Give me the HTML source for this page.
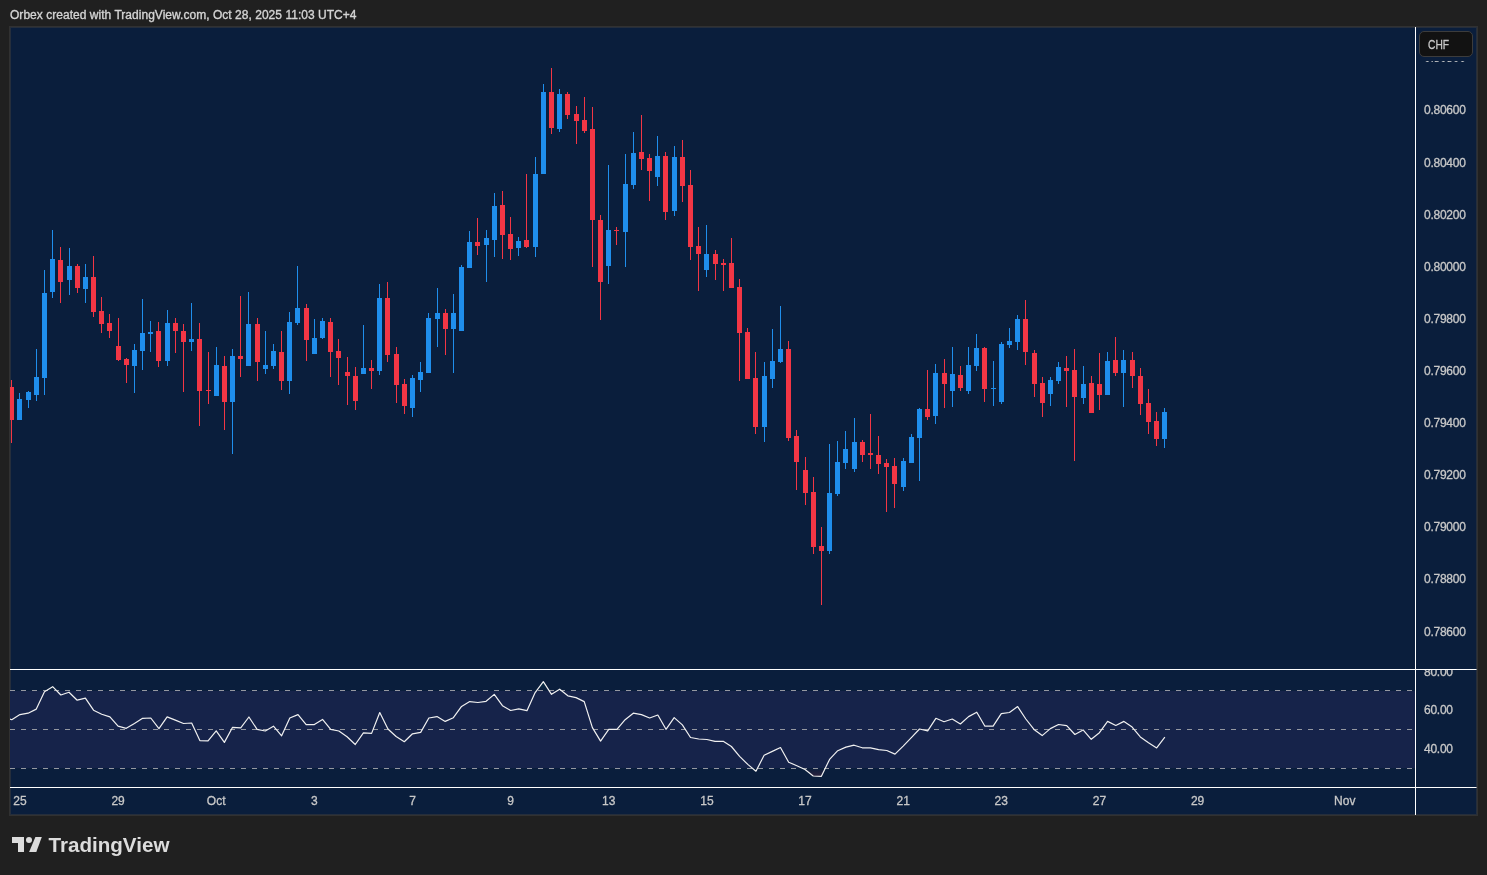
<!DOCTYPE html><html><head><meta charset="utf-8"><style>html,body{margin:0;padding:0;background:#202020;width:1487px;height:875px;overflow:hidden}svg{display:block;will-change:transform}text{font-family:"Liberation Sans", sans-serif} .ax{stroke:#c8c8c8;stroke-width:0.3px}</style></head><body>
<svg width="1487" height="875" viewBox="0 0 1487 875">
<rect x="0" y="0" width="1487" height="875" fill="#202020"/>
<text x="10" y="19" font-size="12" letter-spacing="0.03" stroke="#d4d4d4" stroke-width="0.35" fill="#d4d4d4">Orbex created with TradingView.com, Oct 28, 2025 11:03 UTC+4</text>
<rect x="9" y="26" width="1469" height="790" fill="#313131"/>
<rect x="10" y="27" width="1467" height="788" fill="#252e3c"/>
<rect x="11" y="28" width="1465" height="786" fill="#0a1e3c"/>
<defs><clipPath id="mp"><rect x="10" y="27" width="1405" height="642"/></clipPath><clipPath id="rp"><rect x="10" y="670" width="1405" height="117"/></clipPath><clipPath id="rl"><rect x="1416" y="670" width="61" height="117"/></clipPath><clipPath id="cl"><rect x="1416" y="61" width="61" height="10"/></clipPath></defs>
<rect x="10" y="691" width="1405" height="77" fill="#16234a"/>
<line x1="10" y1="690.5" x2="1415" y2="690.5" stroke="#9598a1" stroke-width="1" stroke-dasharray="5 6"/>
<line x1="10" y1="729.5" x2="1415" y2="729.5" stroke="#9598a1" stroke-width="1" stroke-dasharray="5 6"/>
<line x1="10" y1="768.5" x2="1415" y2="768.5" stroke="#9598a1" stroke-width="1" stroke-dasharray="5 6"/>
<g clip-path="url(#mp)" shape-rendering="crispEdges"><rect x="11" y="380" width="1" height="63" fill="#f23645"/><rect x="9" y="387" width="5" height="33" fill="#f23645"/><rect x="19" y="393" width="1" height="27" fill="#1f8eec"/><rect x="17" y="399" width="5" height="21" fill="#1f8eec"/><rect x="28" y="391" width="1" height="17" fill="#1f8eec"/><rect x="26" y="392" width="5" height="8" fill="#1f8eec"/><rect x="36" y="349" width="1" height="52" fill="#1f8eec"/><rect x="34" y="377" width="5" height="18" fill="#1f8eec"/><rect x="44" y="270" width="1" height="125" fill="#1f8eec"/><rect x="42" y="293" width="5" height="85" fill="#1f8eec"/><rect x="52" y="230" width="1" height="68" fill="#1f8eec"/><rect x="50" y="259" width="5" height="33" fill="#1f8eec"/><rect x="60" y="247" width="1" height="56" fill="#f23645"/><rect x="58" y="260" width="5" height="22" fill="#f23645"/><rect x="69" y="248" width="1" height="47" fill="#1f8eec"/><rect x="67" y="266" width="5" height="14" fill="#1f8eec"/><rect x="77" y="264" width="1" height="29" fill="#f23645"/><rect x="75" y="266" width="5" height="22" fill="#f23645"/><rect x="85" y="264" width="1" height="39" fill="#1f8eec"/><rect x="83" y="277" width="5" height="12" fill="#1f8eec"/><rect x="93" y="256" width="1" height="61" fill="#f23645"/><rect x="91" y="277" width="5" height="35" fill="#f23645"/><rect x="101" y="297" width="1" height="36" fill="#f23645"/><rect x="99" y="311" width="5" height="13" fill="#f23645"/><rect x="109" y="314" width="1" height="24" fill="#f23645"/><rect x="107" y="323" width="5" height="8" fill="#f23645"/><rect x="118" y="318" width="1" height="43" fill="#f23645"/><rect x="116" y="346" width="5" height="14" fill="#f23645"/><rect x="126" y="358" width="1" height="25" fill="#f23645"/><rect x="124" y="359" width="5" height="6" fill="#f23645"/><rect x="134" y="344" width="1" height="49" fill="#1f8eec"/><rect x="132" y="350" width="5" height="16" fill="#1f8eec"/><rect x="142" y="299" width="1" height="71" fill="#1f8eec"/><rect x="140" y="333" width="5" height="18" fill="#1f8eec"/><rect x="150" y="321" width="1" height="31" fill="#1f8eec"/><rect x="148" y="332" width="5" height="2" fill="#1f8eec"/><rect x="158" y="322" width="1" height="45" fill="#f23645"/><rect x="156" y="331" width="5" height="30" fill="#f23645"/><rect x="167" y="310" width="1" height="56" fill="#1f8eec"/><rect x="165" y="323" width="5" height="38" fill="#1f8eec"/><rect x="175" y="318" width="1" height="35" fill="#f23645"/><rect x="173" y="323" width="5" height="8" fill="#f23645"/><rect x="183" y="324" width="1" height="68" fill="#f23645"/><rect x="181" y="331" width="5" height="11" fill="#f23645"/><rect x="191" y="303" width="1" height="48" fill="#1f8eec"/><rect x="189" y="339" width="5" height="3" fill="#1f8eec"/><rect x="199" y="323" width="1" height="103" fill="#f23645"/><rect x="197" y="339" width="5" height="52" fill="#f23645"/><rect x="208" y="352" width="1" height="52" fill="#f23645"/><rect x="206" y="390" width="5" height="1" fill="#f23645"/><rect x="216" y="347" width="1" height="49" fill="#1f8eec"/><rect x="214" y="365" width="5" height="31" fill="#1f8eec"/><rect x="224" y="356" width="1" height="74" fill="#f23645"/><rect x="222" y="366" width="5" height="36" fill="#f23645"/><rect x="232" y="349" width="1" height="105" fill="#1f8eec"/><rect x="230" y="356" width="5" height="46" fill="#1f8eec"/><rect x="240" y="296" width="1" height="81" fill="#f23645"/><rect x="238" y="356" width="5" height="3" fill="#f23645"/><rect x="248" y="292" width="1" height="74" fill="#1f8eec"/><rect x="246" y="324" width="5" height="42" fill="#1f8eec"/><rect x="257" y="318" width="1" height="63" fill="#f23645"/><rect x="255" y="324" width="5" height="38" fill="#f23645"/><rect x="265" y="331" width="1" height="43" fill="#1f8eec"/><rect x="263" y="365" width="5" height="4" fill="#1f8eec"/><rect x="273" y="344" width="1" height="25" fill="#1f8eec"/><rect x="271" y="351" width="5" height="15" fill="#1f8eec"/><rect x="281" y="331" width="1" height="59" fill="#f23645"/><rect x="279" y="352" width="5" height="29" fill="#f23645"/><rect x="289" y="312" width="1" height="82" fill="#1f8eec"/><rect x="287" y="322" width="5" height="59" fill="#1f8eec"/><rect x="297" y="266" width="1" height="59" fill="#1f8eec"/><rect x="295" y="308" width="5" height="15" fill="#1f8eec"/><rect x="306" y="304" width="1" height="57" fill="#f23645"/><rect x="304" y="308" width="5" height="32" fill="#f23645"/><rect x="314" y="319" width="1" height="35" fill="#1f8eec"/><rect x="312" y="338" width="5" height="16" fill="#1f8eec"/><rect x="322" y="318" width="1" height="21" fill="#1f8eec"/><rect x="320" y="321" width="5" height="17" fill="#1f8eec"/><rect x="330" y="318" width="1" height="59" fill="#f23645"/><rect x="328" y="322" width="5" height="30" fill="#f23645"/><rect x="338" y="339" width="1" height="46" fill="#f23645"/><rect x="336" y="351" width="5" height="7" fill="#f23645"/><rect x="347" y="357" width="1" height="48" fill="#f23645"/><rect x="345" y="372" width="5" height="4" fill="#f23645"/><rect x="355" y="367" width="1" height="43" fill="#f23645"/><rect x="353" y="376" width="5" height="25" fill="#f23645"/><rect x="363" y="325" width="1" height="49" fill="#1f8eec"/><rect x="361" y="368" width="5" height="6" fill="#1f8eec"/><rect x="371" y="360" width="1" height="29" fill="#f23645"/><rect x="369" y="368" width="5" height="3" fill="#f23645"/><rect x="379" y="284" width="1" height="91" fill="#1f8eec"/><rect x="377" y="298" width="5" height="73" fill="#1f8eec"/><rect x="387" y="282" width="1" height="80" fill="#f23645"/><rect x="385" y="298" width="5" height="57" fill="#f23645"/><rect x="396" y="347" width="1" height="56" fill="#f23645"/><rect x="394" y="354" width="5" height="31" fill="#f23645"/><rect x="404" y="379" width="1" height="35" fill="#f23645"/><rect x="402" y="384" width="5" height="22" fill="#f23645"/><rect x="412" y="375" width="1" height="42" fill="#1f8eec"/><rect x="410" y="378" width="5" height="30" fill="#1f8eec"/><rect x="420" y="362" width="1" height="30" fill="#1f8eec"/><rect x="418" y="372" width="5" height="8" fill="#1f8eec"/><rect x="428" y="313" width="1" height="60" fill="#1f8eec"/><rect x="426" y="318" width="5" height="55" fill="#1f8eec"/><rect x="437" y="288" width="1" height="59" fill="#1f8eec"/><rect x="435" y="313" width="5" height="6" fill="#1f8eec"/><rect x="445" y="309" width="1" height="46" fill="#f23645"/><rect x="443" y="313" width="5" height="16" fill="#f23645"/><rect x="453" y="294" width="1" height="79" fill="#1f8eec"/><rect x="451" y="313" width="5" height="16" fill="#1f8eec"/><rect x="461" y="265" width="1" height="66" fill="#1f8eec"/><rect x="459" y="267" width="5" height="64" fill="#1f8eec"/><rect x="469" y="231" width="1" height="37" fill="#1f8eec"/><rect x="467" y="242" width="5" height="26" fill="#1f8eec"/><rect x="477" y="218" width="1" height="37" fill="#f23645"/><rect x="475" y="242" width="5" height="4" fill="#f23645"/><rect x="486" y="230" width="1" height="52" fill="#1f8eec"/><rect x="484" y="238" width="5" height="7" fill="#1f8eec"/><rect x="494" y="193" width="1" height="64" fill="#1f8eec"/><rect x="492" y="206" width="5" height="34" fill="#1f8eec"/><rect x="502" y="191" width="1" height="68" fill="#f23645"/><rect x="500" y="205" width="5" height="30" fill="#f23645"/><rect x="510" y="217" width="1" height="43" fill="#f23645"/><rect x="508" y="234" width="5" height="15" fill="#f23645"/><rect x="518" y="237" width="1" height="19" fill="#1f8eec"/><rect x="516" y="241" width="5" height="7" fill="#1f8eec"/><rect x="526" y="174" width="1" height="74" fill="#f23645"/><rect x="524" y="240" width="5" height="7" fill="#f23645"/><rect x="535" y="157" width="1" height="100" fill="#1f8eec"/><rect x="533" y="174" width="5" height="73" fill="#1f8eec"/><rect x="543" y="84" width="1" height="90" fill="#1f8eec"/><rect x="541" y="92" width="5" height="82" fill="#1f8eec"/><rect x="551" y="68" width="1" height="66" fill="#f23645"/><rect x="549" y="92" width="5" height="36" fill="#f23645"/><rect x="559" y="89" width="1" height="43" fill="#1f8eec"/><rect x="557" y="94" width="5" height="35" fill="#1f8eec"/><rect x="567" y="92" width="1" height="27" fill="#f23645"/><rect x="565" y="94" width="5" height="21" fill="#f23645"/><rect x="576" y="106" width="1" height="38" fill="#f23645"/><rect x="574" y="114" width="5" height="7" fill="#f23645"/><rect x="584" y="97" width="1" height="36" fill="#f23645"/><rect x="582" y="120" width="5" height="11" fill="#f23645"/><rect x="592" y="107" width="1" height="160" fill="#f23645"/><rect x="590" y="129" width="5" height="91" fill="#f23645"/><rect x="600" y="215" width="1" height="105" fill="#f23645"/><rect x="598" y="220" width="5" height="62" fill="#f23645"/><rect x="608" y="165" width="1" height="119" fill="#1f8eec"/><rect x="606" y="230" width="5" height="36" fill="#1f8eec"/><rect x="616" y="227" width="1" height="18" fill="#f23645"/><rect x="614" y="230" width="5" height="1" fill="#f23645"/><rect x="625" y="154" width="1" height="113" fill="#1f8eec"/><rect x="623" y="184" width="5" height="48" fill="#1f8eec"/><rect x="633" y="132" width="1" height="57" fill="#1f8eec"/><rect x="631" y="153" width="5" height="32" fill="#1f8eec"/><rect x="641" y="115" width="1" height="55" fill="#f23645"/><rect x="639" y="152" width="5" height="7" fill="#f23645"/><rect x="649" y="154" width="1" height="47" fill="#f23645"/><rect x="647" y="158" width="5" height="13" fill="#f23645"/><rect x="657" y="136" width="1" height="50" fill="#1f8eec"/><rect x="655" y="156" width="5" height="21" fill="#1f8eec"/><rect x="665" y="152" width="1" height="68" fill="#f23645"/><rect x="663" y="156" width="5" height="56" fill="#f23645"/><rect x="674" y="146" width="1" height="70" fill="#1f8eec"/><rect x="672" y="157" width="5" height="54" fill="#1f8eec"/><rect x="682" y="140" width="1" height="62" fill="#f23645"/><rect x="680" y="157" width="5" height="29" fill="#f23645"/><rect x="690" y="170" width="1" height="90" fill="#f23645"/><rect x="688" y="185" width="5" height="62" fill="#f23645"/><rect x="698" y="227" width="1" height="64" fill="#f23645"/><rect x="696" y="246" width="5" height="8" fill="#f23645"/><rect x="706" y="225" width="1" height="52" fill="#1f8eec"/><rect x="704" y="254" width="5" height="16" fill="#1f8eec"/><rect x="715" y="250" width="1" height="30" fill="#f23645"/><rect x="713" y="254" width="5" height="10" fill="#f23645"/><rect x="723" y="259" width="1" height="32" fill="#f23645"/><rect x="721" y="263" width="5" height="2" fill="#f23645"/><rect x="731" y="238" width="1" height="50" fill="#f23645"/><rect x="729" y="263" width="5" height="25" fill="#f23645"/><rect x="739" y="279" width="1" height="102" fill="#f23645"/><rect x="737" y="287" width="5" height="46" fill="#f23645"/><rect x="747" y="328" width="1" height="51" fill="#f23645"/><rect x="745" y="332" width="5" height="47" fill="#f23645"/><rect x="755" y="352" width="1" height="82" fill="#f23645"/><rect x="753" y="378" width="5" height="49" fill="#f23645"/><rect x="764" y="362" width="1" height="80" fill="#1f8eec"/><rect x="762" y="376" width="5" height="51" fill="#1f8eec"/><rect x="772" y="329" width="1" height="59" fill="#1f8eec"/><rect x="770" y="361" width="5" height="18" fill="#1f8eec"/><rect x="780" y="306" width="1" height="57" fill="#1f8eec"/><rect x="778" y="349" width="5" height="13" fill="#1f8eec"/><rect x="788" y="341" width="1" height="100" fill="#f23645"/><rect x="786" y="349" width="5" height="89" fill="#f23645"/><rect x="796" y="430" width="1" height="60" fill="#f23645"/><rect x="794" y="436" width="5" height="26" fill="#f23645"/><rect x="805" y="457" width="1" height="48" fill="#f23645"/><rect x="803" y="470" width="5" height="23" fill="#f23645"/><rect x="813" y="477" width="1" height="77" fill="#f23645"/><rect x="811" y="492" width="5" height="55" fill="#f23645"/><rect x="821" y="527" width="1" height="78" fill="#f23645"/><rect x="819" y="546" width="5" height="5" fill="#f23645"/><rect x="829" y="444" width="1" height="110" fill="#1f8eec"/><rect x="827" y="493" width="5" height="58" fill="#1f8eec"/><rect x="837" y="441" width="1" height="55" fill="#1f8eec"/><rect x="835" y="462" width="5" height="32" fill="#1f8eec"/><rect x="845" y="431" width="1" height="38" fill="#1f8eec"/><rect x="843" y="449" width="5" height="14" fill="#1f8eec"/><rect x="854" y="418" width="1" height="54" fill="#1f8eec"/><rect x="852" y="442" width="5" height="27" fill="#1f8eec"/><rect x="862" y="440" width="1" height="22" fill="#f23645"/><rect x="860" y="442" width="5" height="13" fill="#f23645"/><rect x="870" y="414" width="1" height="55" fill="#f23645"/><rect x="868" y="453" width="5" height="2" fill="#f23645"/><rect x="878" y="436" width="1" height="38" fill="#f23645"/><rect x="876" y="455" width="5" height="9" fill="#f23645"/><rect x="886" y="459" width="1" height="53" fill="#f23645"/><rect x="884" y="463" width="5" height="4" fill="#f23645"/><rect x="894" y="458" width="1" height="50" fill="#f23645"/><rect x="892" y="466" width="5" height="18" fill="#f23645"/><rect x="903" y="458" width="1" height="33" fill="#1f8eec"/><rect x="901" y="461" width="5" height="26" fill="#1f8eec"/><rect x="911" y="434" width="1" height="29" fill="#1f8eec"/><rect x="909" y="437" width="5" height="26" fill="#1f8eec"/><rect x="919" y="408" width="1" height="73" fill="#1f8eec"/><rect x="917" y="409" width="5" height="29" fill="#1f8eec"/><rect x="927" y="370" width="1" height="50" fill="#f23645"/><rect x="925" y="409" width="5" height="8" fill="#f23645"/><rect x="935" y="364" width="1" height="60" fill="#1f8eec"/><rect x="933" y="373" width="5" height="43" fill="#1f8eec"/><rect x="944" y="359" width="1" height="49" fill="#f23645"/><rect x="942" y="373" width="5" height="11" fill="#f23645"/><rect x="952" y="347" width="1" height="60" fill="#1f8eec"/><rect x="950" y="374" width="5" height="17" fill="#1f8eec"/><rect x="960" y="366" width="1" height="25" fill="#f23645"/><rect x="958" y="375" width="5" height="13" fill="#f23645"/><rect x="968" y="347" width="1" height="47" fill="#1f8eec"/><rect x="966" y="365" width="5" height="26" fill="#1f8eec"/><rect x="976" y="334" width="1" height="37" fill="#1f8eec"/><rect x="974" y="348" width="5" height="18" fill="#1f8eec"/><rect x="984" y="347" width="1" height="55" fill="#f23645"/><rect x="982" y="348" width="5" height="41" fill="#f23645"/><rect x="993" y="361" width="1" height="45" fill="#1f8eec"/><rect x="991" y="388" width="5" height="1" fill="#1f8eec"/><rect x="1001" y="342" width="1" height="62" fill="#1f8eec"/><rect x="999" y="344" width="5" height="58" fill="#1f8eec"/><rect x="1009" y="328" width="1" height="20" fill="#1f8eec"/><rect x="1007" y="341" width="5" height="4" fill="#1f8eec"/><rect x="1017" y="315" width="1" height="35" fill="#1f8eec"/><rect x="1015" y="319" width="5" height="23" fill="#1f8eec"/><rect x="1025" y="300" width="1" height="65" fill="#f23645"/><rect x="1023" y="319" width="5" height="33" fill="#f23645"/><rect x="1034" y="350" width="1" height="47" fill="#f23645"/><rect x="1032" y="353" width="5" height="31" fill="#f23645"/><rect x="1042" y="377" width="1" height="40" fill="#f23645"/><rect x="1040" y="383" width="5" height="20" fill="#f23645"/><rect x="1050" y="377" width="1" height="29" fill="#1f8eec"/><rect x="1048" y="380" width="5" height="14" fill="#1f8eec"/><rect x="1058" y="362" width="1" height="22" fill="#1f8eec"/><rect x="1056" y="367" width="5" height="14" fill="#1f8eec"/><rect x="1066" y="356" width="1" height="51" fill="#f23645"/><rect x="1064" y="368" width="5" height="3" fill="#f23645"/><rect x="1074" y="349" width="1" height="112" fill="#f23645"/><rect x="1072" y="370" width="5" height="27" fill="#f23645"/><rect x="1083" y="366" width="1" height="38" fill="#1f8eec"/><rect x="1081" y="384" width="5" height="14" fill="#1f8eec"/><rect x="1091" y="376" width="1" height="37" fill="#f23645"/><rect x="1089" y="383" width="5" height="30" fill="#f23645"/><rect x="1099" y="353" width="1" height="57" fill="#f23645"/><rect x="1097" y="384" width="5" height="11" fill="#f23645"/><rect x="1107" y="352" width="1" height="43" fill="#1f8eec"/><rect x="1105" y="361" width="5" height="34" fill="#1f8eec"/><rect x="1115" y="337" width="1" height="39" fill="#f23645"/><rect x="1113" y="360" width="5" height="13" fill="#f23645"/><rect x="1123" y="350" width="1" height="57" fill="#1f8eec"/><rect x="1121" y="360" width="5" height="13" fill="#1f8eec"/><rect x="1132" y="352" width="1" height="36" fill="#f23645"/><rect x="1130" y="360" width="5" height="16" fill="#f23645"/><rect x="1140" y="368" width="1" height="47" fill="#f23645"/><rect x="1138" y="376" width="5" height="28" fill="#f23645"/><rect x="1148" y="389" width="1" height="45" fill="#f23645"/><rect x="1146" y="403" width="5" height="19" fill="#f23645"/><rect x="1156" y="412" width="1" height="34" fill="#f23645"/><rect x="1154" y="421" width="5" height="18" fill="#f23645"/><rect x="1164" y="408" width="1" height="40" fill="#1f8eec"/><rect x="1162" y="412" width="5" height="27" fill="#1f8eec"/></g>
<defs><linearGradient id="gob" gradientUnits="userSpaceOnUse" x1="0" y1="631.5" x2="0" y2="690"><stop offset="0" stop-color="#089981" stop-opacity="1"/><stop offset="1" stop-color="#089981" stop-opacity="0"/></linearGradient><linearGradient id="gos" gradientUnits="userSpaceOnUse" x1="0" y1="768" x2="0" y2="826.5"><stop offset="0" stop-color="#f23645" stop-opacity="0"/><stop offset="1" stop-color="#f23645" stop-opacity="1"/></linearGradient><clipPath id="cob"><rect x="10" y="670" width="1405" height="20"/></clipPath><clipPath id="cos"><rect x="10" y="769" width="1405" height="18"/></clipPath></defs>
<g clip-path="url(#cob)"><polygon points="3.58,690.5 3.58,717.00 11.76,719.70 19.94,714.60 28.12,713.20 36.30,709.10 44.47,691.70 52.65,686.70 60.83,695.00 69.01,692.20 77.19,700.20 85.36,698.10 93.54,710.20 101.72,714.30 109.90,716.90 118.07,726.20 126.25,728.30 134.43,723.50 142.61,718.30 150.79,718.00 158.96,728.70 167.14,716.90 175.32,720.10 183.50,723.50 191.68,723.00 199.85,740.60 208.03,740.90 216.21,730.80 224.39,742.40 232.57,727.30 240.74,727.90 248.92,717.00 257.10,729.40 265.28,731.00 273.46,726.20 281.63,735.80 289.81,718.00 297.99,714.60 306.17,724.60 314.35,724.60 322.52,719.40 330.70,729.30 338.88,731.00 347.06,736.80 355.24,744.50 363.41,732.80 371.59,733.40 379.77,712.50 387.95,729.00 396.12,736.50 404.30,741.70 412.48,733.80 420.66,732.40 428.84,718.00 437.01,716.60 445.19,721.40 453.37,717.70 461.55,706.40 469.73,701.60 477.90,702.50 486.08,701.30 494.26,694.40 502.44,705.70 510.62,710.50 518.79,708.80 526.97,710.70 535.15,692.60 543.33,681.70 551.51,694.30 559.68,689.20 567.86,695.80 576.04,697.60 584.22,701.60 592.40,727.60 600.57,741.10 608.75,729.40 616.93,729.40 625.11,719.70 633.29,713.20 641.46,714.60 649.64,718.00 657.82,715.00 666.00,729.30 674.17,717.60 682.35,724.90 690.53,737.50 698.71,739.00 706.89,739.50 715.06,741.30 723.24,741.30 731.42,746.50 739.60,756.40 747.78,764.40 755.95,771.20 764.13,755.30 772.31,751.40 780.49,747.50 788.67,762.20 796.84,765.70 805.02,769.50 813.20,776.00 821.38,776.30 829.56,759.40 837.73,750.70 845.91,747.10 854.09,745.20 862.27,747.80 870.45,747.90 878.62,749.60 886.80,750.50 894.98,754.10 903.16,746.10 911.34,737.60 919.51,729.00 927.69,730.80 935.87,718.30 944.05,721.70 952.22,719.00 960.40,724.00 968.58,716.60 976.76,712.20 984.94,726.20 993.11,726.20 1001.29,713.60 1009.47,712.50 1017.65,706.60 1025.83,719.00 1034.00,729.40 1042.18,735.60 1050.36,728.60 1058.54,724.50 1066.72,725.60 1074.89,734.50 1083.07,729.90 1091.25,739.30 1099.43,732.70 1107.61,721.40 1115.78,725.50 1123.96,721.40 1132.14,727.10 1140.32,736.90 1148.50,742.80 1156.67,747.90 1164.85,737.20 1164.85,690.5" fill="url(#gob)"/></g>
<g clip-path="url(#cos)"><polygon points="3.58,768.5 3.58,717.00 11.76,719.70 19.94,714.60 28.12,713.20 36.30,709.10 44.47,691.70 52.65,686.70 60.83,695.00 69.01,692.20 77.19,700.20 85.36,698.10 93.54,710.20 101.72,714.30 109.90,716.90 118.07,726.20 126.25,728.30 134.43,723.50 142.61,718.30 150.79,718.00 158.96,728.70 167.14,716.90 175.32,720.10 183.50,723.50 191.68,723.00 199.85,740.60 208.03,740.90 216.21,730.80 224.39,742.40 232.57,727.30 240.74,727.90 248.92,717.00 257.10,729.40 265.28,731.00 273.46,726.20 281.63,735.80 289.81,718.00 297.99,714.60 306.17,724.60 314.35,724.60 322.52,719.40 330.70,729.30 338.88,731.00 347.06,736.80 355.24,744.50 363.41,732.80 371.59,733.40 379.77,712.50 387.95,729.00 396.12,736.50 404.30,741.70 412.48,733.80 420.66,732.40 428.84,718.00 437.01,716.60 445.19,721.40 453.37,717.70 461.55,706.40 469.73,701.60 477.90,702.50 486.08,701.30 494.26,694.40 502.44,705.70 510.62,710.50 518.79,708.80 526.97,710.70 535.15,692.60 543.33,681.70 551.51,694.30 559.68,689.20 567.86,695.80 576.04,697.60 584.22,701.60 592.40,727.60 600.57,741.10 608.75,729.40 616.93,729.40 625.11,719.70 633.29,713.20 641.46,714.60 649.64,718.00 657.82,715.00 666.00,729.30 674.17,717.60 682.35,724.90 690.53,737.50 698.71,739.00 706.89,739.50 715.06,741.30 723.24,741.30 731.42,746.50 739.60,756.40 747.78,764.40 755.95,771.20 764.13,755.30 772.31,751.40 780.49,747.50 788.67,762.20 796.84,765.70 805.02,769.50 813.20,776.00 821.38,776.30 829.56,759.40 837.73,750.70 845.91,747.10 854.09,745.20 862.27,747.80 870.45,747.90 878.62,749.60 886.80,750.50 894.98,754.10 903.16,746.10 911.34,737.60 919.51,729.00 927.69,730.80 935.87,718.30 944.05,721.70 952.22,719.00 960.40,724.00 968.58,716.60 976.76,712.20 984.94,726.20 993.11,726.20 1001.29,713.60 1009.47,712.50 1017.65,706.60 1025.83,719.00 1034.00,729.40 1042.18,735.60 1050.36,728.60 1058.54,724.50 1066.72,725.60 1074.89,734.50 1083.07,729.90 1091.25,739.30 1099.43,732.70 1107.61,721.40 1115.78,725.50 1123.96,721.40 1132.14,727.10 1140.32,736.90 1148.50,742.80 1156.67,747.90 1164.85,737.20 1164.85,768.5" fill="url(#gos)"/></g>
<g clip-path="url(#rp)"><polyline points="3.58,717.00 11.76,719.70 19.94,714.60 28.12,713.20 36.30,709.10 44.47,691.70 52.65,686.70 60.83,695.00 69.01,692.20 77.19,700.20 85.36,698.10 93.54,710.20 101.72,714.30 109.90,716.90 118.07,726.20 126.25,728.30 134.43,723.50 142.61,718.30 150.79,718.00 158.96,728.70 167.14,716.90 175.32,720.10 183.50,723.50 191.68,723.00 199.85,740.60 208.03,740.90 216.21,730.80 224.39,742.40 232.57,727.30 240.74,727.90 248.92,717.00 257.10,729.40 265.28,731.00 273.46,726.20 281.63,735.80 289.81,718.00 297.99,714.60 306.17,724.60 314.35,724.60 322.52,719.40 330.70,729.30 338.88,731.00 347.06,736.80 355.24,744.50 363.41,732.80 371.59,733.40 379.77,712.50 387.95,729.00 396.12,736.50 404.30,741.70 412.48,733.80 420.66,732.40 428.84,718.00 437.01,716.60 445.19,721.40 453.37,717.70 461.55,706.40 469.73,701.60 477.90,702.50 486.08,701.30 494.26,694.40 502.44,705.70 510.62,710.50 518.79,708.80 526.97,710.70 535.15,692.60 543.33,681.70 551.51,694.30 559.68,689.20 567.86,695.80 576.04,697.60 584.22,701.60 592.40,727.60 600.57,741.10 608.75,729.40 616.93,729.40 625.11,719.70 633.29,713.20 641.46,714.60 649.64,718.00 657.82,715.00 666.00,729.30 674.17,717.60 682.35,724.90 690.53,737.50 698.71,739.00 706.89,739.50 715.06,741.30 723.24,741.30 731.42,746.50 739.60,756.40 747.78,764.40 755.95,771.20 764.13,755.30 772.31,751.40 780.49,747.50 788.67,762.20 796.84,765.70 805.02,769.50 813.20,776.00 821.38,776.30 829.56,759.40 837.73,750.70 845.91,747.10 854.09,745.20 862.27,747.80 870.45,747.90 878.62,749.60 886.80,750.50 894.98,754.10 903.16,746.10 911.34,737.60 919.51,729.00 927.69,730.80 935.87,718.30 944.05,721.70 952.22,719.00 960.40,724.00 968.58,716.60 976.76,712.20 984.94,726.20 993.11,726.20 1001.29,713.60 1009.47,712.50 1017.65,706.60 1025.83,719.00 1034.00,729.40 1042.18,735.60 1050.36,728.60 1058.54,724.50 1066.72,725.60 1074.89,734.50 1083.07,729.90 1091.25,739.30 1099.43,732.70 1107.61,721.40 1115.78,725.50 1123.96,721.40 1132.14,727.10 1140.32,736.90 1148.50,742.80 1156.67,747.90 1164.85,737.20" fill="none" stroke="#f0f0f0" stroke-width="1.2" stroke-linejoin="round"/></g>
<rect x="10" y="669" width="1466" height="1" fill="#ffffff"/>
<rect x="10" y="787" width="1466" height="1" fill="#ffffff"/>
<rect x="1476" y="669" width="1" height="1" fill="#ffffff" fill-opacity="0.55"/>
<rect x="1476" y="787" width="1" height="1" fill="#ffffff" fill-opacity="0.55"/>
<rect x="1415" y="27" width="1" height="788" fill="#ffffff"/>
<text class="ax" x="1424" y="114.00" font-size="12" letter-spacing="-0.25" fill="#c8c8c8">0.80600</text>
<text class="ax" x="1424" y="166.80" font-size="12" letter-spacing="-0.25" fill="#c8c8c8">0.80400</text>
<text class="ax" x="1424" y="219.10" font-size="12" letter-spacing="-0.25" fill="#c8c8c8">0.80200</text>
<text class="ax" x="1424" y="271.10" font-size="12" letter-spacing="-0.25" fill="#c8c8c8">0.80000</text>
<text class="ax" x="1424" y="323.10" font-size="12" letter-spacing="-0.25" fill="#c8c8c8">0.79800</text>
<text class="ax" x="1424" y="375.00" font-size="12" letter-spacing="-0.25" fill="#c8c8c8">0.79600</text>
<text class="ax" x="1424" y="426.90" font-size="12" letter-spacing="-0.25" fill="#c8c8c8">0.79400</text>
<text class="ax" x="1424" y="479.00" font-size="12" letter-spacing="-0.25" fill="#c8c8c8">0.79200</text>
<text class="ax" x="1424" y="531.00" font-size="12" letter-spacing="-0.25" fill="#c8c8c8">0.79000</text>
<text class="ax" x="1424" y="582.90" font-size="12" letter-spacing="-0.25" fill="#c8c8c8">0.78800</text>
<text class="ax" x="1424" y="635.80" font-size="12" letter-spacing="-0.25" fill="#c8c8c8">0.78600</text>
<g clip-path="url(#cl)"><text x="1424" y="61.76" font-size="12" letter-spacing="-0.25" fill="#c8c8c8">0.80800</text></g>
<g clip-path="url(#rl)">
<text class="ax" x="1424" y="675.60" font-size="12" letter-spacing="-0.25" fill="#c8c8c8">80.00</text>
<text class="ax" x="1424" y="713.80" font-size="12" letter-spacing="-0.25" fill="#c8c8c8">60.00</text>
<text class="ax" x="1424" y="752.60" font-size="12" letter-spacing="-0.25" fill="#c8c8c8">40.00</text>
</g>
<rect x="1419.5" y="31.5" width="53" height="25" rx="4.5" fill="#121212" stroke="#3c3c3c" stroke-width="1"/>
<text class="ax" x="1428" y="49" font-size="12" textLength="21" lengthAdjust="spacingAndGlyphs" fill="#c8c8c8">CHF</text>
<text class="ax" x="19.94" y="805.2" font-size="12" text-anchor="middle" fill="#c8c8c8">25</text>
<text class="ax" x="118.07" y="805.2" font-size="12" text-anchor="middle" fill="#c8c8c8">29</text>
<text class="ax" x="216.21" y="805.2" font-size="12" text-anchor="middle" fill="#c8c8c8">Oct</text>
<text class="ax" x="314.35" y="805.2" font-size="12" text-anchor="middle" fill="#c8c8c8">3</text>
<text class="ax" x="412.48" y="805.2" font-size="12" text-anchor="middle" fill="#c8c8c8">7</text>
<text class="ax" x="510.62" y="805.2" font-size="12" text-anchor="middle" fill="#c8c8c8">9</text>
<text class="ax" x="608.75" y="805.2" font-size="12" text-anchor="middle" fill="#c8c8c8">13</text>
<text class="ax" x="706.89" y="805.2" font-size="12" text-anchor="middle" fill="#c8c8c8">15</text>
<text class="ax" x="805.02" y="805.2" font-size="12" text-anchor="middle" fill="#c8c8c8">17</text>
<text class="ax" x="903.16" y="805.2" font-size="12" text-anchor="middle" fill="#c8c8c8">21</text>
<text class="ax" x="1001.29" y="805.2" font-size="12" text-anchor="middle" fill="#c8c8c8">23</text>
<text class="ax" x="1099.43" y="805.2" font-size="12" text-anchor="middle" fill="#c8c8c8">27</text>
<text class="ax" x="1197.56" y="805.2" font-size="12" text-anchor="middle" fill="#c8c8c8">29</text>
<text class="ax" x="1344.77" y="805.2" font-size="12" text-anchor="middle" fill="#c8c8c8">Nov</text>
<path d="M12 837H24V852H18V843H12Z" fill="#dcdcdc"/>
<circle cx="29" cy="840" r="3" fill="#dcdcdc"/>
<path d="M35.4 837H41.8L36.3 852H29.1Z" fill="#dcdcdc"/>
<text x="48.5" y="852" font-size="20.6" font-weight="bold" fill="#dcdcdc">TradingView</text>
</svg></body></html>
